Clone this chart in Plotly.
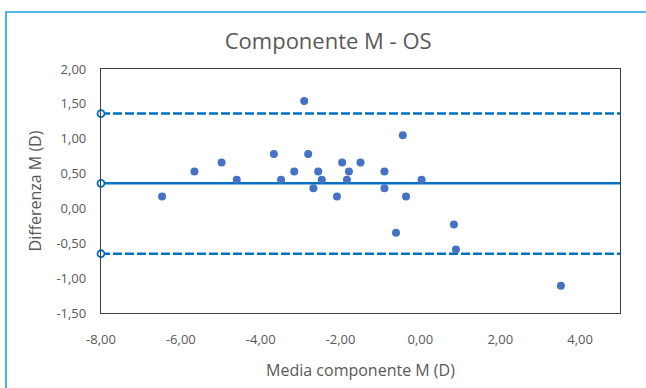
import plotly.graph_objects as go

# Bland-Altman data: mean of the two M measurements vs their difference (D)
media_m = [-6.47, -5.66, -4.98, -4.60, -3.67, -3.49, -3.16, -2.91, -2.81, -2.68,
           -2.56, -2.47, -2.09, -1.96, -1.84, -1.79, -1.50, -0.90, -0.90, -0.61,
           -0.44, -0.36, 0.03, 0.84, 0.89, 3.52]
differenza_m = [0.17, 0.53, 0.66, 0.41, 0.78, 0.41, 0.53, 1.54, 0.78, 0.29,
                0.53, 0.41, 0.17, 0.66, 0.41, 0.53, 0.66, 0.53, 0.29, -0.35,
                1.05, 0.17, 0.41, -0.23, -0.59, -1.11]

# Mean difference and limits of agreement
bias = 0.36
loa_upper = 1.36
loa_lower = -0.65

# Axis ranges and tick labels
x_range = [-8.0, 5.0]
y_range = [-1.5, 2.0]
x_ticks = [-8, -6, -4, -2, 0, 2, 4]
x_ticktext = ["-8,00", "-6,00", "-4,00", "-2,00", "0,00", "2,00", "4,00"]
y_ticks = [-1.5, -1.0, -0.5, 0.0, 0.5, 1.0, 1.5, 2.0]
y_ticktext = ["-1,50", "-1,00", "-0,50", "0,00", "0,50", "1,00", "1,50", "2,00"]

LINE_BLUE = "#0070C0"
DOT_BLUE = "#4472C4"
TEXT_GREY = "#595959"
FONT = "Open Sans"

fig = go.Figure()

# Reference lines: bias (solid) and limits of agreement (dashed)
for level, dash in [(loa_upper, "9px,3px"), (bias, "solid"), (loa_lower, "9px,3px")]:
    fig.add_trace(go.Scatter(
        x=x_range, y=[level, level], mode="lines",
        line=dict(color=LINE_BLUE, width=2.5, dash=dash),
        hoverinfo="skip", showlegend=False,
    ))
    fig.add_trace(go.Scatter(
        x=[x_range[0]], y=[level], mode="markers",
        marker=dict(symbol="circle", size=7, color="white",
                    line=dict(color=LINE_BLUE, width=1.8)),
        cliponaxis=False, hoverinfo="skip", showlegend=False,
    ))

# Data points
fig.add_trace(go.Scatter(
    x=media_m, y=differenza_m, mode="markers",
    marker=dict(size=8, color=DOT_BLUE),
    showlegend=False,
))

axis_common = dict(
    showgrid=False, zeroline=False, showline=True, mirror=True,
    linecolor="#404040", linewidth=1.3, ticks="",
    tickfont=dict(family=FONT, size=13, color=TEXT_GREY),
)

fig.update_layout(
    width=646, height=388,
    margin=dict(l=101, r=26, t=69, b=75),
    paper_bgcolor="white", plot_bgcolor="white",
    title=dict(text="Componente M - OS", x=0.508, xanchor="center",
               y=1 - 41 / 388, yanchor="middle", yref="container",
               font=dict(family=FONT, size=22, color=TEXT_GREY)),
    xaxis=dict(range=x_range, tickvals=x_ticks, ticktext=x_ticktext,
               ticklabelstandoff=14,
               title=dict(text="Media componente M (D)", standoff=18,
                          font=dict(family=FONT, size=16, color=TEXT_GREY)),
               **axis_common),
    yaxis=dict(range=y_range, tickvals=y_ticks, ticktext=y_ticktext,
               ticklabelstandoff=11,
               title=dict(text="Differenza M (D)", standoff=10,
                          font=dict(family=FONT, size=16, color=TEXT_GREY)),
               **axis_common),
    shapes=[dict(type="rect", xref="paper", yref="paper",
                 x0=(6 - 101) / 519, x1=1.5, y0=-1.0, y1=(313 - 12) / 244,
                 line=dict(color="#1BA1E2", width=1.6), layer="below")],
)

fig.write_html("out.html")
